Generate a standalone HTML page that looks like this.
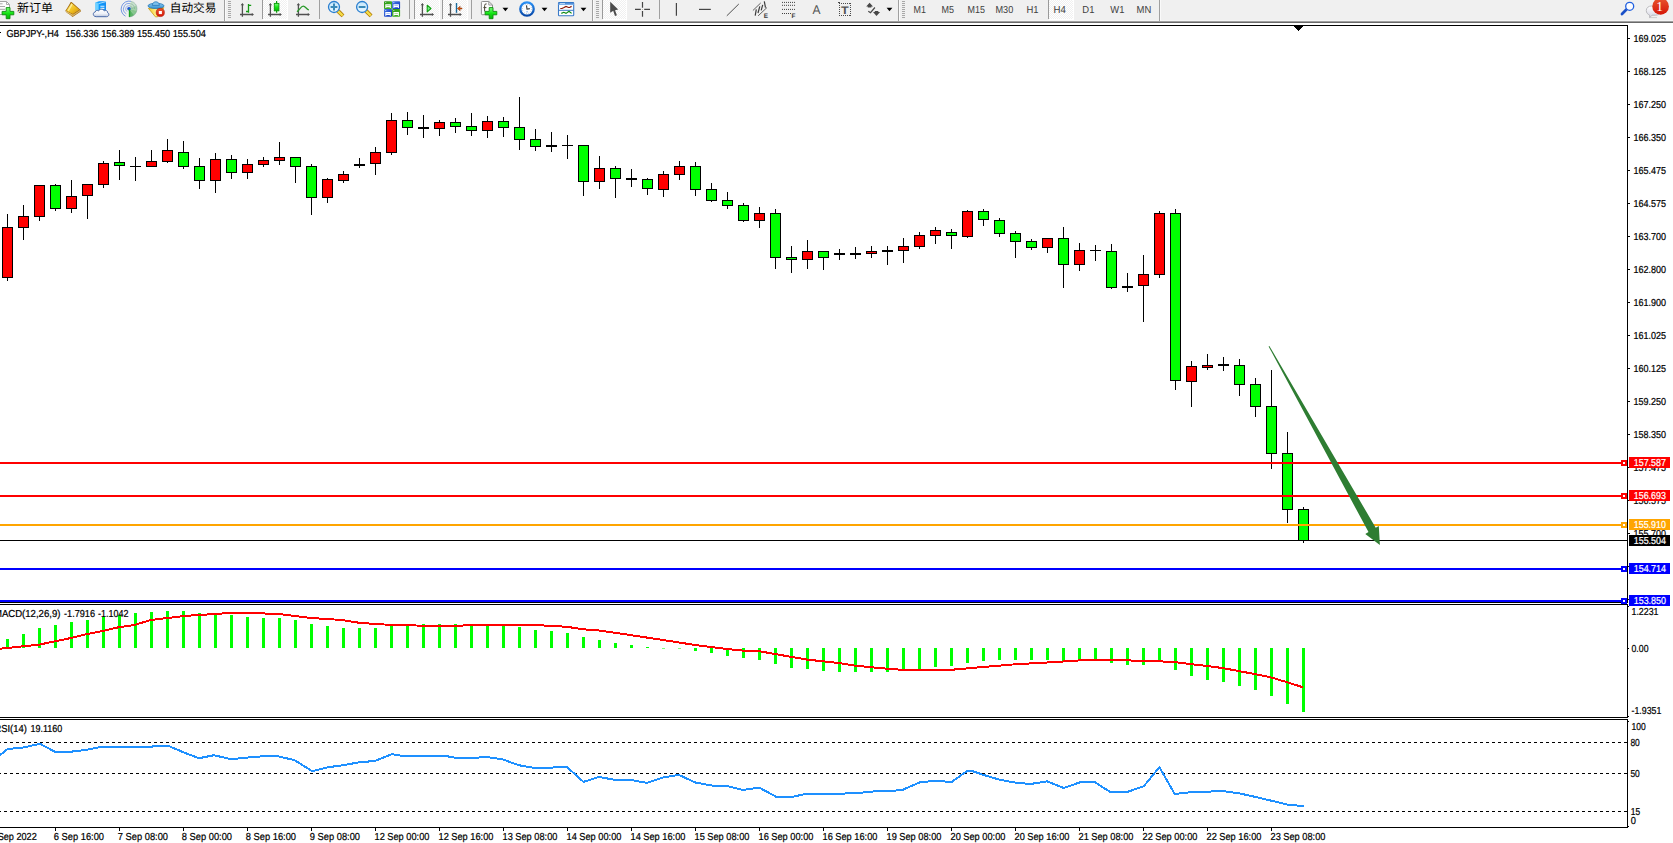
<!DOCTYPE html>
<html lang="zh-CN"><head><meta charset="utf-8"><title>GBPJPY-,H4</title>
<style>html,body{margin:0;padding:0;background:#fff;overflow:hidden}svg{display:block;font-family:"Liberation Sans", "Noto Sans CJK SC", sans-serif;text-rendering:geometricPrecision}.c{shape-rendering:crispEdges}</style></head><body>
<svg width="1673" height="843" viewBox="0 0 1673 843">
<rect x="0" y="0" width="1673" height="843" fill="#fff"/>
<defs><linearGradient id="gGreen" x1="0" y1="0" x2="0" y2="1"><stop offset="0" stop-color="#7dff7d"/><stop offset="0.5" stop-color="#14e614"/><stop offset="1" stop-color="#05b405"/></linearGradient><linearGradient id="gBook" x1="0" y1="0" x2="1" y2="1"><stop offset="0" stop-color="#fbe46a"/><stop offset="0.55" stop-color="#f0c020"/><stop offset="1" stop-color="#c98a10"/></linearGradient><linearGradient id="gCloud" x1="0" y1="0" x2="0" y2="1"><stop offset="0" stop-color="#ffffff"/><stop offset="0.6" stop-color="#eef1f8"/><stop offset="1" stop-color="#b9c4dc"/></linearGradient><linearGradient id="gCube" x1="0" y1="0" x2="1" y2="0"><stop offset="0" stop-color="#4fc0ff"/><stop offset="0.35" stop-color="#0a9cff"/><stop offset="1" stop-color="#168cf0"/></linearGradient><linearGradient id="gHat" x1="0" y1="0" x2="0" y2="1"><stop offset="0" stop-color="#8cc8f0"/><stop offset="1" stop-color="#2f8fd0"/></linearGradient><linearGradient id="gFun" x1="0" y1="0" x2="1" y2="0"><stop offset="0" stop-color="#f4c820"/><stop offset="0.5" stop-color="#fff08a"/><stop offset="1" stop-color="#e8b418"/></linearGradient><linearGradient id="gRed" x1="0" y1="0" x2="0" y2="1"><stop offset="0" stop-color="#e9562e"/><stop offset="1" stop-color="#d51506"/></linearGradient><linearGradient id="gClock" x1="0" y1="0" x2="0" y2="1"><stop offset="0" stop-color="#2a90f4"/><stop offset="1" stop-color="#0848a8"/></linearGradient><linearGradient id="gLens" x1="0" y1="0" x2="0" y2="1"><stop offset="0" stop-color="#c4e6fa"/><stop offset="1" stop-color="#eaf8ff"/></linearGradient><linearGradient id="gHandle" x1="0" y1="0" x2="1" y2="0"><stop offset="0" stop-color="#fff07a"/><stop offset="1" stop-color="#e0b010"/></linearGradient><linearGradient id="gTG" x1="0" y1="0" x2="1" y2="1"><stop offset="0" stop-color="#2c9a14"/><stop offset="1" stop-color="#46b428"/></linearGradient><linearGradient id="gTB" x1="0" y1="0" x2="1" y2="1"><stop offset="0" stop-color="#4a7ce8"/><stop offset="1" stop-color="#0a30b8"/></linearGradient><linearGradient id="gBub" x1="0" y1="0" x2="0" y2="1"><stop offset="0" stop-color="#ffffff"/><stop offset="1" stop-color="#d4d4e2"/></linearGradient><linearGradient id="gTpl" x1="0" y1="0" x2="0" y2="1"><stop offset="0" stop-color="#2f74c8"/><stop offset="1" stop-color="#8fbcf0"/></linearGradient><radialGradient id="gSig" cx="0.5" cy="0.5" r="0.5"><stop offset="0" stop-color="#2fa43a" stop-opacity="0.95"/><stop offset="1" stop-color="#2fa43a" stop-opacity="0.35"/></radialGradient><pattern id="dither" width="2" height="2" patternUnits="userSpaceOnUse"><rect width="2" height="2" fill="#f0f0f0"/><rect width="1" height="1" fill="#fff"/><rect x="1" y="1" width="1" height="1" fill="#fff"/></pattern></defs>
<g id="toolbar">
<g class="c">
<rect x="0" y="0" width="1673" height="21" fill="#f0f0f0"/>
<rect x="0" y="20" width="1673" height="1" fill="#f5f5f5"/>
<rect x="0" y="21" width="1673" height="1" fill="#a0a0a0"/>
<rect x="0" y="22" width="1673" height="1" fill="#696969"/>
<rect x="0" y="23" width="1673" height="2" fill="#fff"/>
<rect x="263" y="0" width="24" height="19" fill="url(#dither)"/>
<rect x="263" y="19" width="25" height="1" fill="#fff"/>
<rect x="287" y="0" width="1" height="20" fill="#fff"/>
<rect x="262" y="0" width="1" height="19" fill="#9a9a9a"/>
<rect x="415" y="0" width="24" height="19" fill="url(#dither)"/>
<rect x="415" y="19" width="25" height="1" fill="#fff"/>
<rect x="439" y="0" width="1" height="20" fill="#fff"/>
<rect x="414" y="0" width="1" height="19" fill="#9a9a9a"/>
<rect x="443" y="0" width="24" height="19" fill="url(#dither)"/>
<rect x="443" y="19" width="25" height="1" fill="#fff"/>
<rect x="467" y="0" width="1" height="20" fill="#fff"/>
<rect x="442" y="0" width="1" height="19" fill="#9a9a9a"/>
<rect x="603" y="0" width="23" height="19" fill="url(#dither)"/>
<rect x="603" y="19" width="24" height="1" fill="#fff"/>
<rect x="626" y="0" width="1" height="20" fill="#fff"/>
<rect x="602" y="0" width="1" height="19" fill="#9a9a9a"/>
<rect x="1049" y="0" width="24" height="19" fill="url(#dither)"/>
<rect x="1049" y="19" width="25" height="1" fill="#fff"/>
<rect x="1073" y="0" width="1" height="20" fill="#fff"/>
<rect x="1048" y="0" width="1" height="19" fill="#9a9a9a"/>
<rect x="319" y="0" width="1" height="19" fill="#a0a0a0"/>
<rect x="409" y="0" width="1" height="19" fill="#a0a0a0"/>
<rect x="471" y="0" width="1" height="19" fill="#a0a0a0"/>
<rect x="659" y="0" width="1" height="19" fill="#a0a0a0"/>
<rect x="1159" y="0" width="1" height="21" fill="#a0a0a0"/>
<rect x="1160" y="0" width="1" height="21" fill="#fafafa"/>
<rect x="224" y="0" width="1" height="21" fill="#a0a0a0"/>
<rect x="225" y="0" width="1" height="21" fill="#fafafa"/>
<rect x="592" y="0" width="1" height="21" fill="#a0a0a0"/>
<rect x="593" y="0" width="1" height="21" fill="#fafafa"/>
<rect x="898" y="0" width="1" height="21" fill="#a0a0a0"/>
<rect x="899" y="0" width="1" height="21" fill="#fafafa"/>
<rect x="228" y="1" width="3" height="1" fill="#a8a8a8"/>
<rect x="228" y="3" width="3" height="1" fill="#a8a8a8"/>
<rect x="228" y="5" width="3" height="1" fill="#a8a8a8"/>
<rect x="228" y="7" width="3" height="1" fill="#a8a8a8"/>
<rect x="228" y="9" width="3" height="1" fill="#a8a8a8"/>
<rect x="228" y="11" width="3" height="1" fill="#a8a8a8"/>
<rect x="228" y="13" width="3" height="1" fill="#a8a8a8"/>
<rect x="228" y="15" width="3" height="1" fill="#a8a8a8"/>
<rect x="228" y="17" width="3" height="1" fill="#a8a8a8"/>
<rect x="596" y="1" width="3" height="1" fill="#a8a8a8"/>
<rect x="596" y="3" width="3" height="1" fill="#a8a8a8"/>
<rect x="596" y="5" width="3" height="1" fill="#a8a8a8"/>
<rect x="596" y="7" width="3" height="1" fill="#a8a8a8"/>
<rect x="596" y="9" width="3" height="1" fill="#a8a8a8"/>
<rect x="596" y="11" width="3" height="1" fill="#a8a8a8"/>
<rect x="596" y="13" width="3" height="1" fill="#a8a8a8"/>
<rect x="596" y="15" width="3" height="1" fill="#a8a8a8"/>
<rect x="596" y="17" width="3" height="1" fill="#a8a8a8"/>
<rect x="902" y="1" width="3" height="1" fill="#a8a8a8"/>
<rect x="902" y="3" width="3" height="1" fill="#a8a8a8"/>
<rect x="902" y="5" width="3" height="1" fill="#a8a8a8"/>
<rect x="902" y="7" width="3" height="1" fill="#a8a8a8"/>
<rect x="902" y="9" width="3" height="1" fill="#a8a8a8"/>
<rect x="902" y="11" width="3" height="1" fill="#a8a8a8"/>
<rect x="902" y="13" width="3" height="1" fill="#a8a8a8"/>
<rect x="902" y="15" width="3" height="1" fill="#a8a8a8"/>
<rect x="902" y="17" width="3" height="1" fill="#a8a8a8"/>
</g>
<text x="17" y="12" font-size="11.800" fill="#000" textLength="36" lengthAdjust="spacingAndGlyphs">新订单</text>
<text x="169.800" y="12" font-size="11.800" fill="#000" textLength="46.6" lengthAdjust="spacingAndGlyphs">自动交易</text>
<text x="913.6" y="13" font-size="10.17" fill="#404040" textLength="12.4" lengthAdjust="spacingAndGlyphs">M1</text>
<text x="941.5" y="13" font-size="10.17" fill="#404040" textLength="12.5" lengthAdjust="spacingAndGlyphs">M5</text>
<text x="967.6" y="13" font-size="10.17" fill="#404040" textLength="17.4" lengthAdjust="spacingAndGlyphs">M15</text>
<text x="995.5" y="13" font-size="10.17" fill="#404040" textLength="17.8" lengthAdjust="spacingAndGlyphs">M30</text>
<text x="1026.4" y="13" font-size="10.17" fill="#404040" textLength="12.1" lengthAdjust="spacingAndGlyphs">H1</text>
<text x="1053.6" y="13" font-size="10.17" fill="#404040" textLength="12.3" lengthAdjust="spacingAndGlyphs">H4</text>
<text x="1082.3" y="13" font-size="10.17" fill="#404040" textLength="12.1" lengthAdjust="spacingAndGlyphs">D1</text>
<text x="1110.3" y="13" font-size="10.17" fill="#404040" textLength="14.1" lengthAdjust="spacingAndGlyphs">W1</text>
<text x="1136.6" y="13" font-size="10.17" fill="#404040" textLength="14.7" lengthAdjust="spacingAndGlyphs">MN</text>
<text x="812.5" y="14" font-size="12.6" fill="#555" textLength="8" lengthAdjust="spacingAndGlyphs">A</text>
<path d="M-1 1.5 H6.5 L9.5 4.5 V14.5 H-1 Z" fill="#fdfdfd" stroke="#a4a4a4" stroke-width="1"/>
<path d="M6.5 1.5 V4.5 H9.5" fill="none" stroke="#a4a4a4" stroke-width="0.9"/>
<path d="M0 3.8 H2.6 M0 6.5 H5 M0 9.3 H5" stroke="#a8a8a8" stroke-width="1"/>
<path d="M6.2 7.6 H10 V11.4 H13.8 V14.8 H10 V18.7 H6.2 V14.8 H2.1 V11.4 H6.2 Z" fill="url(#gGreen)" stroke="#0c8c0c" stroke-width="0.9"/>
<path d="M65.200 11 C66.800 8.500 69.600 4.500 70.700 2 L71.600 1.900 L80.700 10.100 L80.800 11.400 L72.600 16.900 Z" fill="#a46c12"/>
<path d="M66 12 L72.600 16.300 L80.400 11 L80.300 9.900 L72.900 14.700 L66.200 10.900 Z" fill="#e8cf8c"/>
<path d="M66.400 12.400 L72.600 15.500 L80.300 10.500" fill="none" stroke="#b88a30" stroke-width="0.500"/>
<path d="M66.300 10.800 C67.800 8.400 70.200 5 71.300 3.100 L79.400 9.800 L72.900 13.900 Z" fill="url(#gBook)"/>
<path d="M68.200 10.800 C69.200 9 71 6.200 72 4.200" fill="none" stroke="#fff6b0" stroke-width="1.500" stroke-opacity="0.750"/>
<path d="M95.4 2.4 L99 1.3 H106 V10.5 H95.4 Z" fill="url(#gCube)"/>
<path d="M95.4 2.4 L98.6 3.6 V10.5 H95.4 Z" fill="#6fd0ff"/>
<path d="M98.6 3.6 L106 1.6" stroke="#c8ecff" stroke-width="0.8"/>
<path d="M100.4 6.2 H104.4 M100.4 8.4 H104.4" stroke="#dff3ff" stroke-width="1.1"/>
<path d="M96.200 16.700 C92.600 16.700 92.400 12.300 95.300 11.900 C95.500 10.300 97.600 9.900 98.500 11 C99.300 8.700 103.400 8.600 104.300 10.900 C106 9.900 108 11 107.600 12.700 C109.600 13.300 109.200 16.700 106.600 16.700 Z" fill="url(#gCloud)" stroke="#4a6aa8" stroke-width="1"/>
<path d="M129 9 V17 A8 8 0 0 0 134.200 15.100 Z" fill="#1f9a30" fill-opacity="0.700"/>
<path d="M129 9 L134.200 15.100 A8 8 0 0 0 136.800 10.800 Z" fill="#2fa43c" fill-opacity="0.550"/>
<path d="M129 9 L136.800 10.800 A8 8 0 0 0 136.200 5.500 Z" fill="#3aa848" fill-opacity="0.420"/>
<path d="M129 9 L136.200 5.500 A8 8 0 0 0 131 1.300 Z" fill="#5ab868" fill-opacity="0.280"/>
<path d="M131 1.300 A8 8 0 0 0 125.500 16.200" fill="none" stroke="#3f6fdc" stroke-width="1" stroke-opacity="0.700"/>
<path d="M130 3.600 A5.500 5.500 0 0 0 126.300 13.800" fill="none" stroke="#4f7ce0" stroke-width="1" stroke-opacity="0.650"/>
<path d="M129.500 5.700 A3.300 3.300 0 0 0 127 11.600" fill="none" stroke="#6f94e6" stroke-width="1" stroke-opacity="0.650"/>
<path d="M131 1.300 A8 8 0 0 1 137 9 A8 8 0 0 1 129 17 M130 3.600 A5.500 5.500 0 0 1 134.500 9 M129.500 5.700 A3.300 3.300 0 0 1 132.300 9" fill="none" stroke="#6f9888" stroke-width="0.800" stroke-opacity="0.550"/>
<circle cx="129" cy="8.700" r="1.800" fill="#1f56d0"/>
<path d="M129.500 9.300 V16.900" stroke="#18a428" stroke-width="1.400"/>
<path d="M148.400 8.300 L163.800 7.700 L157.600 16.800 H155.400 Z" fill="url(#gFun)" stroke="#c89a14" stroke-width="0.8"/>
<ellipse cx="156" cy="5.900" rx="8" ry="2.700" fill="url(#gHat)" stroke="#2878b8" stroke-width="0.8"/>
<path d="M152.300 5.400 C152.300 0.600 159.400 0.600 159.400 5.400 Z" fill="#7cc0ec" stroke="#2878b8" stroke-width="0.8"/>
<circle cx="160.300" cy="12.500" r="4.100" fill="url(#gRed)" stroke="#b01206" stroke-width="0.6"/>
<rect x="158.800" y="11" width="3.100" height="3.100" fill="#fff"/>
<path d="M242.4 4 V16.800 M240 14.500 H252.8" stroke="#505050" stroke-width="1.300" fill="none"/>
<path d="M240.70000000000002 5.200 L242.4 2.900 L244.1 5.200 Z M251.8 12.900 L254.0 14.500 L251.8 16.100 Z" fill="#505050"/>
<path d="M246 11.500 H248.500 M248.500 4 V12.800 M248.500 5.300 H251.200" stroke="#159a15" stroke-width="1.3" fill="none"/>
<path d="M270.4 4 V16.800 M268.1 14.500 H280.7" stroke="#505050" stroke-width="1.300" fill="none"/>
<path d="M268.7 5.200 L270.4 2.900 L272.09999999999997 5.200 Z M279.7 12.900 L281.9 14.500 L279.7 16.100 Z" fill="#505050"/>
<path d="M276.600 1 V12.800" stroke="#0b9a0b" stroke-width="1.2"/>
<rect x="274.300" y="3.400" width="4.600" height="7.400" fill="url(#gGreen)" stroke="#0b9a0b" stroke-width="0.9"/>
<path d="M298.4 4 V16.800 M296 14.500 H308.8" stroke="#505050" stroke-width="1.300" fill="none"/>
<path d="M296.7 5.200 L298.4 2.900 L300.09999999999997 5.200 Z M307.8 12.900 L310.0 14.500 L307.8 16.100 Z" fill="#505050"/>
<path d="M297 11.800 C300 9.500 301 6.200 303.200 6.200 C305.400 6.200 306.500 9.200 308.900 10" stroke="#2a9a2a" stroke-width="1.3" fill="none"/>
<path d="M337.8 10.800 L343 15.900" stroke="#b07800" stroke-width="4"/>
<path d="M337.8 10.800 L342.7 15.600" stroke="#f4dc48" stroke-width="2.400"/>
<circle cx="334" cy="7" r="5.500" fill="url(#gLens)" stroke="#2a7fd0" stroke-width="1.300"/>
<path d="M330.6 7 H337.4" stroke="#3a8ab8" stroke-width="2"/>
<path d="M334 3.600 V10.400" stroke="#3a8ab8" stroke-width="2"/>
<path d="M365.90000000000003 10.800 L371.1 15.900" stroke="#b07800" stroke-width="4"/>
<path d="M365.90000000000003 10.800 L370.8 15.600" stroke="#f4dc48" stroke-width="2.400"/>
<circle cx="362.1" cy="7" r="5.500" fill="url(#gLens)" stroke="#2a7fd0" stroke-width="1.300"/>
<path d="M358.70000000000005 7 H365.5" stroke="#3a8ab8" stroke-width="2"/>
<rect x="384" y="1.3" width="8" height="7.700" rx="0.800" fill="url(#gTG)"/>
<rect x="385.2" y="2.2" width="1" height="0.800" fill="#dfe8ff"/>
<path d="M385.3 7.8999999999999995 V4.3 H390.8 V7.8999999999999995 H389.8 V7.2 H386.3 V7.8999999999999995 Z" fill="#fff"/>
<rect x="386.3" y="5.2" width="3.500" height="0.800" fill="#9ad88a"/>
<rect x="392.1" y="1.3" width="8" height="7.700" rx="0.800" fill="url(#gTB)"/>
<rect x="393.3" y="2.2" width="1" height="0.800" fill="#dfe8ff"/>
<path d="M393.40000000000003 7.8999999999999995 V4.3 H398.90000000000003 V7.8999999999999995 H397.90000000000003 V7.2 H394.40000000000003 V7.8999999999999995 Z" fill="#fff"/>
<rect x="394.40000000000003" y="5.2" width="3.500" height="0.800" fill="#9ab4f0"/>
<rect x="384" y="9.1" width="8" height="7.700" rx="0.800" fill="url(#gTB)"/>
<rect x="385.2" y="10.0" width="1" height="0.800" fill="#dfe8ff"/>
<path d="M385.3 15.7 V12.1 H390.8 V15.7 H389.8 V15.0 H386.3 V15.7 Z" fill="#fff"/>
<rect x="386.3" y="13.0" width="3.500" height="0.800" fill="#9ab4f0"/>
<rect x="392.1" y="9.1" width="8" height="7.700" rx="0.800" fill="url(#gTG)"/>
<rect x="393.3" y="10.0" width="1" height="0.800" fill="#dfe8ff"/>
<path d="M393.40000000000003 15.7 V12.1 H398.90000000000003 V15.7 H397.90000000000003 V15.0 H394.40000000000003 V15.7 Z" fill="#fff"/>
<rect x="394.40000000000003" y="13.0" width="3.500" height="0.800" fill="#9ad88a"/>
<path d="M422.4 4 V16.800 M420 14.500 H432.9" stroke="#505050" stroke-width="1.300" fill="none"/>
<path d="M420.7 5.200 L422.4 2.900 L424.09999999999997 5.200 Z M431.9 12.900 L434.09999999999997 14.500 L431.9 16.100 Z" fill="#505050"/>
<path d="M427.200 5.200 L431 8.500 L427.200 11.900 Z" fill="#74f084" stroke="#12a212" stroke-width="1.100" stroke-linejoin="round"/>
<path d="M450.5 4 V16.800 M448 14.500 H460.7" stroke="#505050" stroke-width="1.300" fill="none"/>
<path d="M448.8 5.200 L450.5 2.900 L452.2 5.200 Z M459.7 12.900 L461.9 14.500 L459.7 16.100 Z" fill="#505050"/>
<path d="M456.500 3 V12.800" stroke="#1a6a9a" stroke-width="1.400"/>
<path d="M457.300 8.500 L460.200 6.200 L459.700 8 H462 V9 H459.700 L460.200 10.800 Z" fill="#e05a08" stroke="#8a2c00" stroke-width="0.500"/>
<path d="M482.300 1.500 H488.800 L492.500 5 V13.800 Q492.500 14.700 491.600 14.700 H482.300 Q481.400 14.700 481.400 13.800 V2.400 Q481.400 1.500 482.300 1.500 Z" fill="#fcfcfc" stroke="#8e8e8e" stroke-width="1"/>
<path d="M488.800 1.500 V5 H492.500" fill="none" stroke="#8e8e8e" stroke-width="0.900"/>
<path d="M486.600 3.900 Q484.600 3.600 484.600 5.600 V11.400 M483.400 7.600 H486.400" stroke="#4a4636" stroke-width="1" fill="none"/>
<path d="M489.200 7.600 H493 V11.400 H496.800 V14.800 H493 V18.700 H489.200 V14.800 H485.100 V11.400 H489.200 Z" fill="url(#gGreen)" stroke="#0c8c0c" stroke-width="0.900"/>
<circle cx="527" cy="9" r="6.700" fill="#fbfdff" stroke="url(#gClock)" stroke-width="2.300"/>
<circle cx="527" cy="9" r="4.600" fill="none" stroke="#9aa6b8" stroke-width="0.900" stroke-dasharray="0.700 1.700"/>
<path d="M526.500 5.400 L527 9.200 L529.800 8.600" stroke="#333" stroke-width="1.100" fill="none"/>
<path d="M526.300 11.800 H527.900" stroke="#5a9af0" stroke-width="0.800"/>
<rect x="558.500" y="2.500" width="15.200" height="13.200" rx="0.800" fill="#fdfeff" stroke="#3a7ac8" stroke-width="1.100"/>
<rect x="558.500" y="2.500" width="15.200" height="2.500" fill="url(#gTpl)"/>
<path d="M559.800 3.600 H565" stroke="#dcecff" stroke-width="0.800"/>
<path d="M560.300 8.500 L562 8.500 L564 7.500 L566 6.400 L568.600 7.500 L569.600 7.500 L571.600 6.400" stroke="#8c1606" stroke-width="1.200" fill="none"/>
<path d="M558.500 10.300 H573.700" stroke="#3a7ac8" stroke-width="1"/>
<path d="M561.300 13.400 L563.800 12.300 L566 13.400 L569 11.300 L571.600 13.400" stroke="#0c8a14" stroke-width="1.200" fill="none"/>
<path d="M502.5 7.800 H508.29999999999995 L505.4 11.200 Z" fill="#000"/>
<path d="M541.6 7.800 H547.4 L544.5 11.200 Z" fill="#000"/>
<path d="M580.6 7.800 H586.4 L583.5 11.200 Z" fill="#000"/>
<path d="M886.6 7.800 H892.4 L889.5 11.200 Z" fill="#000"/>
<path d="M610.200 1.800 V12.800 L613.200 10.700 L615 15.900 L616.900 15.200 L615 10.200 L618.200 9.400 Z" fill="#4c4c4c"/>
<path d="M642.500 2 V7.800 M642.500 11 V16.800 M635 9.400 H640.800 M644.200 9.400 H650" stroke="#454545" stroke-width="1.200"/>
<rect x="642.200" y="9.100" width="0.600" height="0.600" fill="#6a5a3a"/>
<path d="M676.400 3 V15.800" stroke="#454545" stroke-width="1.200"/>
<path d="M699 9.400 H710.800" stroke="#454545" stroke-width="1.200"/>
<path d="M726.800 15.800 L738.800 4" stroke="#505050" stroke-width="1"/>
<path d="M752.900 10.500 L760.700 3 M758.200 15.800 L767 7.500" stroke="#505050" stroke-width="0.900"/>
<path d="M755.200 15.600 L756.300 9.300 M758 13 L759.800 6.300 M761.200 10.400 L762.700 4.800 M764.300 1.300 L765.500 7.600" stroke="#3c3c3c" stroke-width="1.200"/>
<text x="763.700" y="17.800" font-size="6.400" font-weight="bold" fill="#3c3c3c">E</text>
<path d="M782 2.4 H795.5" stroke="#404040" stroke-width="1" stroke-dasharray="1 1"/>
<path d="M782 5.3 H795.5" stroke="#404040" stroke-width="1" stroke-dasharray="1 1"/>
<path d="M782 9.4 H795.5" stroke="#404040" stroke-width="1" stroke-dasharray="1 1"/>
<path d="M782 13.5 H791" stroke="#404040" stroke-width="1" stroke-dasharray="1 1"/>
<text x="791.600" y="17.800" font-size="6.400" font-weight="bold" fill="#3c3c3c">F</text>
<path class="c" d="M839 3.500 H851 M839 15.500 H851 M839.500 3 V16 M850.500 3 V16" fill="none" stroke="#4a4a4a" stroke-width="1" stroke-dasharray="1 1"/>
<path d="M838 2 H840 V3 H838 Z" fill="#4a4a4a"/>
<text x="841" y="13.700" font-size="11" font-weight="bold" fill="#555" textLength="7.700" lengthAdjust="spacingAndGlyphs">T</text>
<path d="M866.200 6.500 L869.600 2.800 L873 6.500 H871.400 V7.600 H867.800 V6.500 Z" fill="#484848"/>
<path d="M873 12.100 H874.800 V11.100 H878.300 V12.100 H880.100 L876.500 15.900 Z" fill="#484848"/>
<path d="M868.300 11.200 L870.500 12.700 L874.900 7.500" stroke="#484848" stroke-width="1.200" fill="none"/>
<path d="M1626.400 9.600 L1622 13.900" stroke="#1a50c8" stroke-width="2.800" stroke-linecap="round"/>
<circle cx="1629.700" cy="6.300" r="4" fill="#fbfcff" stroke="#2060e0" stroke-width="1.300"/>
<path d="M1649.500 17.600 H1657" stroke="#c4c4c4" stroke-width="0.800"/>
<path d="M1646.300 10.500 C1646.300 7.800 1648.500 6 1651.500 6 H1656 C1659 6 1660.500 8 1660.500 10.500 C1660.500 13.300 1658.500 15.200 1655.500 15.200 H1652 L1649.700 17.600 L1649.600 15 C1647.500 14.300 1646.300 12.700 1646.300 10.500 Z" fill="url(#gBub)" stroke="#b4b4b8" stroke-width="0.900"/>
<circle cx="1660.600" cy="6.400" r="8.300" fill="url(#gRed)"/>
<text x="1659.500" y="10.900" font-size="13.500" font-family="'Liberation Serif', serif" fill="#fff" text-anchor="middle">1</text>
</g>
<g class="c">
<rect x="0" y="25" width="1628" height="1" fill="#000"/>
<rect x="1627" y="25" width="1" height="803" fill="#000"/>
<rect x="0" y="602" width="1628" height="1" fill="#000"/>
<rect x="0" y="604" width="1628" height="1" fill="#000"/>
<rect x="0" y="717" width="1628" height="1" fill="#000"/>
<rect x="0" y="719" width="1628" height="1" fill="#000"/>
<rect x="0" y="827" width="1628" height="1" fill="#000"/>
<rect x="1627" y="603" width="1" height="1" fill="#fff"/>
<rect x="1627" y="718" width="1" height="1" fill="#fff"/>
</g>
<g class="c">
<rect x="1294" y="26" width="9" height="1" fill="#000"/>
<rect x="1295" y="27" width="7" height="1" fill="#000"/>
<rect x="1296" y="28" width="5" height="1" fill="#000"/>
<rect x="1297" y="29" width="3" height="1" fill="#000"/>
<rect x="1298" y="30" width="1" height="1" fill="#000"/>
</g>
<g class="c">
<rect x="1628" y="38" width="2" height="1" fill="#000"/>
<rect x="1628" y="71" width="2" height="1" fill="#000"/>
<rect x="1628" y="104" width="2" height="1" fill="#000"/>
<rect x="1628" y="137" width="2" height="1" fill="#000"/>
<rect x="1628" y="170" width="2" height="1" fill="#000"/>
<rect x="1628" y="203" width="2" height="1" fill="#000"/>
<rect x="1628" y="236" width="2" height="1" fill="#000"/>
<rect x="1628" y="269" width="2" height="1" fill="#000"/>
<rect x="1628" y="302" width="2" height="1" fill="#000"/>
<rect x="1628" y="335" width="2" height="1" fill="#000"/>
<rect x="1628" y="368" width="2" height="1" fill="#000"/>
<rect x="1628" y="401" width="2" height="1" fill="#000"/>
<rect x="1628" y="434" width="2" height="1" fill="#000"/>
<rect x="1628" y="467" width="2" height="1" fill="#000"/>
<rect x="1628" y="500" width="2" height="1" fill="#000"/>
<rect x="1628" y="533" width="2" height="1" fill="#000"/>
<rect x="1628" y="566" width="2" height="1" fill="#000"/>
<rect x="1628" y="599" width="2" height="1" fill="#000"/>
</g>
<text x="1633.4" y="42.00" font-size="10.17" fill="#000" stroke="#000" stroke-width="0.22" text-anchor="start" textLength="32.5" lengthAdjust="spacingAndGlyphs">169.025</text>
<text x="1633.4" y="75.00" font-size="10.17" fill="#000" stroke="#000" stroke-width="0.22" text-anchor="start" textLength="32.5" lengthAdjust="spacingAndGlyphs">168.125</text>
<text x="1633.4" y="108.00" font-size="10.17" fill="#000" stroke="#000" stroke-width="0.22" text-anchor="start" textLength="32.5" lengthAdjust="spacingAndGlyphs">167.250</text>
<text x="1633.4" y="141.00" font-size="10.17" fill="#000" stroke="#000" stroke-width="0.22" text-anchor="start" textLength="32.5" lengthAdjust="spacingAndGlyphs">166.350</text>
<text x="1633.4" y="174.00" font-size="10.17" fill="#000" stroke="#000" stroke-width="0.22" text-anchor="start" textLength="32.5" lengthAdjust="spacingAndGlyphs">165.475</text>
<text x="1633.4" y="207.00" font-size="10.17" fill="#000" stroke="#000" stroke-width="0.22" text-anchor="start" textLength="32.5" lengthAdjust="spacingAndGlyphs">164.575</text>
<text x="1633.4" y="240.00" font-size="10.17" fill="#000" stroke="#000" stroke-width="0.22" text-anchor="start" textLength="32.5" lengthAdjust="spacingAndGlyphs">163.700</text>
<text x="1633.4" y="273.00" font-size="10.17" fill="#000" stroke="#000" stroke-width="0.22" text-anchor="start" textLength="32.5" lengthAdjust="spacingAndGlyphs">162.800</text>
<text x="1633.4" y="306.00" font-size="10.17" fill="#000" stroke="#000" stroke-width="0.22" text-anchor="start" textLength="32.5" lengthAdjust="spacingAndGlyphs">161.900</text>
<text x="1633.4" y="339.00" font-size="10.17" fill="#000" stroke="#000" stroke-width="0.22" text-anchor="start" textLength="32.5" lengthAdjust="spacingAndGlyphs">161.025</text>
<text x="1633.4" y="372.00" font-size="10.17" fill="#000" stroke="#000" stroke-width="0.22" text-anchor="start" textLength="32.5" lengthAdjust="spacingAndGlyphs">160.125</text>
<text x="1633.4" y="405.00" font-size="10.17" fill="#000" stroke="#000" stroke-width="0.22" text-anchor="start" textLength="32.5" lengthAdjust="spacingAndGlyphs">159.250</text>
<text x="1633.4" y="438.00" font-size="10.17" fill="#000" stroke="#000" stroke-width="0.22" text-anchor="start" textLength="32.5" lengthAdjust="spacingAndGlyphs">158.350</text>
<text x="1633.4" y="471.00" font-size="10.17" fill="#000" stroke="#000" stroke-width="0.22" text-anchor="start" textLength="32.5" lengthAdjust="spacingAndGlyphs">157.475</text>
<text x="1633.4" y="504.00" font-size="10.17" fill="#000" stroke="#000" stroke-width="0.22" text-anchor="start" textLength="32.5" lengthAdjust="spacingAndGlyphs">156.575</text>
<text x="1633.4" y="537.00" font-size="10.17" fill="#000" stroke="#000" stroke-width="0.22" text-anchor="start" textLength="32.5" lengthAdjust="spacingAndGlyphs">155.700</text>
<g class="c">
<rect x="0" y="462" width="1621" height="2" fill="#ff0000"/>
<rect x="0" y="495" width="1621" height="2" fill="#ff0000"/>
<rect x="0" y="524" width="1621" height="2" fill="#ffa500"/>
<rect x="0" y="568" width="1621" height="2" fill="#0000ff"/>
<rect x="0" y="600" width="1621" height="2" fill="#0000ff"/>
<rect x="0" y="540" width="1627" height="1" fill="#000"/>
</g>
<g class="c">
<rect x="7" y="214" width="1" height="67" fill="#000"/>
<rect x="2" y="227" width="11" height="51" fill="#000"/>
<rect x="3" y="228" width="9" height="49" fill="#ff0000"/>
<rect x="23" y="205" width="1" height="35" fill="#000"/>
<rect x="18" y="216" width="11" height="12" fill="#000"/>
<rect x="19" y="217" width="9" height="10" fill="#ff0000"/>
<rect x="39" y="185" width="1" height="36" fill="#000"/>
<rect x="34" y="185" width="11" height="32" fill="#000"/>
<rect x="35" y="186" width="9" height="30" fill="#ff0000"/>
<rect x="55" y="184" width="1" height="27" fill="#000"/>
<rect x="50" y="185" width="11" height="24" fill="#000"/>
<rect x="51" y="186" width="9" height="22" fill="#00ff00"/>
<rect x="71" y="180" width="1" height="33" fill="#000"/>
<rect x="66" y="196" width="11" height="13" fill="#000"/>
<rect x="67" y="197" width="9" height="11" fill="#ff0000"/>
<rect x="87" y="184" width="1" height="35" fill="#000"/>
<rect x="82" y="184" width="11" height="12" fill="#000"/>
<rect x="83" y="185" width="9" height="10" fill="#ff0000"/>
<rect x="103" y="161" width="1" height="27" fill="#000"/>
<rect x="98" y="163" width="11" height="22" fill="#000"/>
<rect x="99" y="164" width="9" height="20" fill="#ff0000"/>
<rect x="119" y="150" width="1" height="30" fill="#000"/>
<rect x="114" y="162" width="11" height="4" fill="#000"/>
<rect x="115" y="163" width="9" height="2" fill="#00ff00"/>
<rect x="135" y="157" width="1" height="24" fill="#000"/>
<rect x="130" y="166" width="11" height="1" fill="#000"/>
<rect x="151" y="150" width="1" height="17" fill="#000"/>
<rect x="146" y="161" width="11" height="6" fill="#000"/>
<rect x="147" y="162" width="9" height="4" fill="#ff0000"/>
<rect x="167" y="139" width="1" height="24" fill="#000"/>
<rect x="162" y="150" width="11" height="12" fill="#000"/>
<rect x="163" y="151" width="9" height="10" fill="#ff0000"/>
<rect x="183" y="141" width="1" height="28" fill="#000"/>
<rect x="178" y="152" width="11" height="15" fill="#000"/>
<rect x="179" y="153" width="9" height="13" fill="#00ff00"/>
<rect x="199" y="158" width="1" height="31" fill="#000"/>
<rect x="194" y="166" width="11" height="15" fill="#000"/>
<rect x="195" y="167" width="9" height="13" fill="#00ff00"/>
<rect x="215" y="153" width="1" height="40" fill="#000"/>
<rect x="210" y="159" width="11" height="22" fill="#000"/>
<rect x="211" y="160" width="9" height="20" fill="#ff0000"/>
<rect x="231" y="155" width="1" height="24" fill="#000"/>
<rect x="226" y="159" width="11" height="14" fill="#000"/>
<rect x="227" y="160" width="9" height="12" fill="#00ff00"/>
<rect x="247" y="159" width="1" height="20" fill="#000"/>
<rect x="242" y="164" width="11" height="9" fill="#000"/>
<rect x="243" y="165" width="9" height="7" fill="#ff0000"/>
<rect x="263" y="157" width="1" height="10" fill="#000"/>
<rect x="258" y="160" width="11" height="5" fill="#000"/>
<rect x="259" y="161" width="9" height="3" fill="#ff0000"/>
<rect x="279" y="142" width="1" height="23" fill="#000"/>
<rect x="274" y="157" width="11" height="4" fill="#000"/>
<rect x="275" y="158" width="9" height="2" fill="#ff0000"/>
<rect x="295" y="157" width="1" height="26" fill="#000"/>
<rect x="290" y="157" width="11" height="10" fill="#000"/>
<rect x="291" y="158" width="9" height="8" fill="#00ff00"/>
<rect x="311" y="164" width="1" height="51" fill="#000"/>
<rect x="306" y="166" width="11" height="32" fill="#000"/>
<rect x="307" y="167" width="9" height="30" fill="#00ff00"/>
<rect x="327" y="178" width="1" height="25" fill="#000"/>
<rect x="322" y="179" width="11" height="19" fill="#000"/>
<rect x="323" y="180" width="9" height="17" fill="#ff0000"/>
<rect x="343" y="171" width="1" height="12" fill="#000"/>
<rect x="338" y="174" width="11" height="7" fill="#000"/>
<rect x="339" y="175" width="9" height="5" fill="#ff0000"/>
<rect x="359" y="158" width="1" height="10" fill="#000"/>
<rect x="354" y="164" width="11" height="2" fill="#000"/>
<rect x="375" y="147" width="1" height="28" fill="#000"/>
<rect x="370" y="152" width="11" height="12" fill="#000"/>
<rect x="371" y="153" width="9" height="10" fill="#ff0000"/>
<rect x="391" y="113" width="1" height="42" fill="#000"/>
<rect x="386" y="120" width="11" height="33" fill="#000"/>
<rect x="387" y="121" width="9" height="31" fill="#ff0000"/>
<rect x="407" y="112" width="1" height="23" fill="#000"/>
<rect x="402" y="120" width="11" height="8" fill="#000"/>
<rect x="403" y="121" width="9" height="6" fill="#00ff00"/>
<rect x="423" y="115" width="1" height="23" fill="#000"/>
<rect x="418" y="127" width="11" height="2" fill="#000"/>
<rect x="439" y="120" width="1" height="16" fill="#000"/>
<rect x="434" y="122" width="11" height="7" fill="#000"/>
<rect x="435" y="123" width="9" height="5" fill="#ff0000"/>
<rect x="455" y="118" width="1" height="15" fill="#000"/>
<rect x="450" y="122" width="11" height="5" fill="#000"/>
<rect x="451" y="123" width="9" height="3" fill="#00ff00"/>
<rect x="471" y="113" width="1" height="23" fill="#000"/>
<rect x="466" y="126" width="11" height="5" fill="#000"/>
<rect x="467" y="127" width="9" height="3" fill="#00ff00"/>
<rect x="487" y="116" width="1" height="22" fill="#000"/>
<rect x="482" y="121" width="11" height="10" fill="#000"/>
<rect x="483" y="122" width="9" height="8" fill="#ff0000"/>
<rect x="503" y="117" width="1" height="20" fill="#000"/>
<rect x="498" y="121" width="11" height="7" fill="#000"/>
<rect x="499" y="122" width="9" height="5" fill="#00ff00"/>
<rect x="519" y="97" width="1" height="53" fill="#000"/>
<rect x="514" y="127" width="11" height="13" fill="#000"/>
<rect x="515" y="128" width="9" height="11" fill="#00ff00"/>
<rect x="535" y="129" width="1" height="22" fill="#000"/>
<rect x="530" y="139" width="11" height="8" fill="#000"/>
<rect x="531" y="140" width="9" height="6" fill="#00ff00"/>
<rect x="551" y="132" width="1" height="20" fill="#000"/>
<rect x="546" y="145" width="11" height="2" fill="#000"/>
<rect x="567" y="135" width="1" height="24" fill="#000"/>
<rect x="562" y="145" width="11" height="1" fill="#000"/>
<rect x="583" y="145" width="1" height="51" fill="#000"/>
<rect x="578" y="145" width="11" height="37" fill="#000"/>
<rect x="579" y="146" width="9" height="35" fill="#00ff00"/>
<rect x="599" y="156" width="1" height="33" fill="#000"/>
<rect x="594" y="168" width="11" height="14" fill="#000"/>
<rect x="595" y="169" width="9" height="12" fill="#ff0000"/>
<rect x="615" y="166" width="1" height="32" fill="#000"/>
<rect x="610" y="168" width="11" height="11" fill="#000"/>
<rect x="611" y="169" width="9" height="9" fill="#00ff00"/>
<rect x="631" y="169" width="1" height="18" fill="#000"/>
<rect x="626" y="178" width="11" height="2" fill="#000"/>
<rect x="647" y="178" width="1" height="17" fill="#000"/>
<rect x="642" y="179" width="11" height="10" fill="#000"/>
<rect x="643" y="180" width="9" height="8" fill="#00ff00"/>
<rect x="663" y="171" width="1" height="26" fill="#000"/>
<rect x="658" y="174" width="11" height="16" fill="#000"/>
<rect x="659" y="175" width="9" height="14" fill="#ff0000"/>
<rect x="679" y="161" width="1" height="19" fill="#000"/>
<rect x="674" y="166" width="11" height="9" fill="#000"/>
<rect x="675" y="167" width="9" height="7" fill="#ff0000"/>
<rect x="695" y="162" width="1" height="34" fill="#000"/>
<rect x="690" y="166" width="11" height="24" fill="#000"/>
<rect x="691" y="167" width="9" height="22" fill="#00ff00"/>
<rect x="711" y="183" width="1" height="19" fill="#000"/>
<rect x="706" y="189" width="11" height="12" fill="#000"/>
<rect x="707" y="190" width="9" height="10" fill="#00ff00"/>
<rect x="727" y="192" width="1" height="17" fill="#000"/>
<rect x="722" y="200" width="11" height="6" fill="#000"/>
<rect x="723" y="201" width="9" height="4" fill="#00ff00"/>
<rect x="743" y="203" width="1" height="19" fill="#000"/>
<rect x="738" y="205" width="11" height="16" fill="#000"/>
<rect x="739" y="206" width="9" height="14" fill="#00ff00"/>
<rect x="759" y="207" width="1" height="21" fill="#000"/>
<rect x="754" y="213" width="11" height="8" fill="#000"/>
<rect x="755" y="214" width="9" height="6" fill="#ff0000"/>
<rect x="775" y="209" width="1" height="60" fill="#000"/>
<rect x="770" y="213" width="11" height="45" fill="#000"/>
<rect x="771" y="214" width="9" height="43" fill="#00ff00"/>
<rect x="791" y="246" width="1" height="27" fill="#000"/>
<rect x="786" y="257" width="11" height="3" fill="#000"/>
<rect x="787" y="258" width="9" height="1" fill="#00ff00"/>
<rect x="807" y="240" width="1" height="29" fill="#000"/>
<rect x="802" y="251" width="11" height="9" fill="#000"/>
<rect x="803" y="252" width="9" height="7" fill="#ff0000"/>
<rect x="823" y="251" width="1" height="19" fill="#000"/>
<rect x="818" y="251" width="11" height="7" fill="#000"/>
<rect x="819" y="252" width="9" height="5" fill="#00ff00"/>
<rect x="839" y="249" width="1" height="11" fill="#000"/>
<rect x="834" y="253" width="11" height="2" fill="#000"/>
<rect x="855" y="247" width="1" height="12" fill="#000"/>
<rect x="850" y="253" width="11" height="2" fill="#000"/>
<rect x="871" y="246" width="1" height="12" fill="#000"/>
<rect x="866" y="251" width="11" height="3" fill="#000"/>
<rect x="867" y="252" width="9" height="1" fill="#ff0000"/>
<rect x="887" y="246" width="1" height="19" fill="#000"/>
<rect x="882" y="250" width="11" height="2" fill="#000"/>
<rect x="903" y="238" width="1" height="25" fill="#000"/>
<rect x="898" y="246" width="11" height="5" fill="#000"/>
<rect x="899" y="247" width="9" height="3" fill="#ff0000"/>
<rect x="919" y="232" width="1" height="17" fill="#000"/>
<rect x="914" y="235" width="11" height="12" fill="#000"/>
<rect x="915" y="236" width="9" height="10" fill="#ff0000"/>
<rect x="935" y="227" width="1" height="17" fill="#000"/>
<rect x="930" y="230" width="11" height="6" fill="#000"/>
<rect x="931" y="231" width="9" height="4" fill="#ff0000"/>
<rect x="951" y="229" width="1" height="20" fill="#000"/>
<rect x="946" y="232" width="11" height="4" fill="#000"/>
<rect x="947" y="233" width="9" height="2" fill="#00ff00"/>
<rect x="967" y="210" width="1" height="28" fill="#000"/>
<rect x="962" y="211" width="11" height="26" fill="#000"/>
<rect x="963" y="212" width="9" height="24" fill="#ff0000"/>
<rect x="983" y="209" width="1" height="17" fill="#000"/>
<rect x="978" y="211" width="11" height="9" fill="#000"/>
<rect x="979" y="212" width="9" height="7" fill="#00ff00"/>
<rect x="999" y="218" width="1" height="19" fill="#000"/>
<rect x="994" y="220" width="11" height="14" fill="#000"/>
<rect x="995" y="221" width="9" height="12" fill="#00ff00"/>
<rect x="1015" y="231" width="1" height="27" fill="#000"/>
<rect x="1010" y="233" width="11" height="9" fill="#000"/>
<rect x="1011" y="234" width="9" height="7" fill="#00ff00"/>
<rect x="1031" y="239" width="1" height="11" fill="#000"/>
<rect x="1026" y="241" width="11" height="7" fill="#000"/>
<rect x="1027" y="242" width="9" height="5" fill="#00ff00"/>
<rect x="1047" y="238" width="1" height="15" fill="#000"/>
<rect x="1042" y="238" width="11" height="10" fill="#000"/>
<rect x="1043" y="239" width="9" height="8" fill="#ff0000"/>
<rect x="1063" y="227" width="1" height="61" fill="#000"/>
<rect x="1058" y="238" width="11" height="27" fill="#000"/>
<rect x="1059" y="239" width="9" height="25" fill="#00ff00"/>
<rect x="1079" y="243" width="1" height="28" fill="#000"/>
<rect x="1074" y="250" width="11" height="15" fill="#000"/>
<rect x="1075" y="251" width="9" height="13" fill="#ff0000"/>
<rect x="1095" y="245" width="1" height="16" fill="#000"/>
<rect x="1090" y="250" width="11" height="1" fill="#000"/>
<rect x="1111" y="244" width="1" height="45" fill="#000"/>
<rect x="1106" y="251" width="11" height="37" fill="#000"/>
<rect x="1107" y="252" width="9" height="35" fill="#00ff00"/>
<rect x="1127" y="273" width="1" height="19" fill="#000"/>
<rect x="1122" y="286" width="11" height="2" fill="#000"/>
<rect x="1143" y="255" width="1" height="67" fill="#000"/>
<rect x="1138" y="274" width="11" height="12" fill="#000"/>
<rect x="1139" y="275" width="9" height="10" fill="#ff0000"/>
<rect x="1159" y="211" width="1" height="67" fill="#000"/>
<rect x="1154" y="213" width="11" height="62" fill="#000"/>
<rect x="1155" y="214" width="9" height="60" fill="#ff0000"/>
<rect x="1175" y="209" width="1" height="181" fill="#000"/>
<rect x="1170" y="213" width="11" height="168" fill="#000"/>
<rect x="1171" y="214" width="9" height="166" fill="#00ff00"/>
<rect x="1191" y="361" width="1" height="46" fill="#000"/>
<rect x="1186" y="366" width="11" height="16" fill="#000"/>
<rect x="1187" y="367" width="9" height="14" fill="#ff0000"/>
<rect x="1207" y="354" width="1" height="16" fill="#000"/>
<rect x="1202" y="365" width="11" height="3" fill="#000"/>
<rect x="1203" y="366" width="9" height="1" fill="#ff0000"/>
<rect x="1223" y="357" width="1" height="14" fill="#000"/>
<rect x="1218" y="364" width="11" height="2" fill="#000"/>
<rect x="1239" y="359" width="1" height="37" fill="#000"/>
<rect x="1234" y="365" width="11" height="20" fill="#000"/>
<rect x="1235" y="366" width="9" height="18" fill="#00ff00"/>
<rect x="1255" y="378" width="1" height="39" fill="#000"/>
<rect x="1250" y="384" width="11" height="23" fill="#000"/>
<rect x="1251" y="385" width="9" height="21" fill="#00ff00"/>
<rect x="1271" y="370" width="1" height="99" fill="#000"/>
<rect x="1266" y="406" width="11" height="48" fill="#000"/>
<rect x="1267" y="407" width="9" height="46" fill="#00ff00"/>
<rect x="1287" y="432" width="1" height="91" fill="#000"/>
<rect x="1282" y="453" width="11" height="57" fill="#000"/>
<rect x="1283" y="454" width="9" height="55" fill="#00ff00"/>
<rect x="1303" y="507" width="1" height="36" fill="#000"/>
<rect x="1298" y="509" width="11" height="32" fill="#000"/>
<rect x="1299" y="510" width="9" height="30" fill="#00ff00"/>
</g>
<g class="c">
<rect x="1260" y="462" width="361" height="2" fill="#ff0000"/>
<rect x="1260" y="495" width="361" height="2" fill="#ff0000"/>
<rect x="1260" y="524" width="361" height="2" fill="#ffa500"/>
<rect x="1260" y="568" width="361" height="2" fill="#0000ff"/>
<rect x="1260" y="600" width="361" height="2" fill="#0000ff"/>
<rect x="1260" y="540" width="367" height="1" fill="#000"/>
<rect x="1621" y="460" width="6" height="6" fill="#ff0000"/>
<rect x="1623" y="462" width="2" height="2" fill="#fff"/>
<rect x="1629" y="457" width="41" height="11" fill="#ff0000"/>
<rect x="1621" y="493" width="6" height="6" fill="#ff0000"/>
<rect x="1623" y="495" width="2" height="2" fill="#fff"/>
<rect x="1629" y="490" width="41" height="11" fill="#ff0000"/>
<rect x="1621" y="522" width="6" height="6" fill="#ffa500"/>
<rect x="1623" y="524" width="2" height="2" fill="#fff"/>
<rect x="1629" y="519" width="41" height="11" fill="#ffa500"/>
<rect x="1621" y="566" width="6" height="6" fill="#0000ff"/>
<rect x="1623" y="568" width="2" height="2" fill="#fff"/>
<rect x="1629" y="563" width="41" height="11" fill="#0000ff"/>
<rect x="1621" y="598" width="6" height="6" fill="#0000ff"/>
<rect x="1623" y="600" width="2" height="2" fill="#fff"/>
<rect x="1629" y="595" width="41" height="11" fill="#0000ff"/>
<rect x="1629" y="535" width="41" height="11" fill="#000"/>
</g>
<text x="1633.7" y="466.00" font-size="10.17" fill="#fff" stroke="#fff" stroke-width="0.22" text-anchor="start" textLength="32.3" lengthAdjust="spacingAndGlyphs">157.587</text>
<text x="1633.7" y="499.00" font-size="10.17" fill="#fff" stroke="#fff" stroke-width="0.22" text-anchor="start" textLength="32.3" lengthAdjust="spacingAndGlyphs">156.693</text>
<text x="1633.7" y="528.00" font-size="10.17" fill="#fff" stroke="#fff" stroke-width="0.22" text-anchor="start" textLength="32.3" lengthAdjust="spacingAndGlyphs">155.910</text>
<text x="1633.7" y="572.00" font-size="10.17" fill="#fff" stroke="#fff" stroke-width="0.22" text-anchor="start" textLength="32.3" lengthAdjust="spacingAndGlyphs">154.714</text>
<text x="1633.7" y="604.00" font-size="10.17" fill="#fff" stroke="#fff" stroke-width="0.22" text-anchor="start" textLength="32.3" lengthAdjust="spacingAndGlyphs">153.850</text>
<text x="1633.7" y="544.00" font-size="10.17" fill="#fff" stroke="#fff" stroke-width="0.22" text-anchor="start" textLength="32.3" lengthAdjust="spacingAndGlyphs">155.504</text>
<path d="M1268.6 346.5 L1269.4 346.1 L1375.7 527.7 L1378.8 526 L1379.9 544.9 L1365.3 534.1 L1368.5 532.1 Z" fill="#2e7d32"/>
<g class="c">
<rect x="6" y="639" width="3" height="9" fill="#00ff00"/>
<rect x="22" y="634" width="3" height="14" fill="#00ff00"/>
<rect x="38" y="628" width="3" height="20" fill="#00ff00"/>
<rect x="54" y="625" width="3" height="23" fill="#00ff00"/>
<rect x="70" y="622" width="3" height="26" fill="#00ff00"/>
<rect x="86" y="620" width="3" height="28" fill="#00ff00"/>
<rect x="102" y="617" width="3" height="31" fill="#00ff00"/>
<rect x="118" y="615" width="3" height="33" fill="#00ff00"/>
<rect x="134" y="613" width="3" height="35" fill="#00ff00"/>
<rect x="150" y="612" width="3" height="36" fill="#00ff00"/>
<rect x="166" y="611" width="3" height="37" fill="#00ff00"/>
<rect x="182" y="611" width="3" height="37" fill="#00ff00"/>
<rect x="198" y="613" width="3" height="35" fill="#00ff00"/>
<rect x="214" y="615" width="3" height="33" fill="#00ff00"/>
<rect x="230" y="615" width="3" height="33" fill="#00ff00"/>
<rect x="246" y="617" width="3" height="31" fill="#00ff00"/>
<rect x="262" y="618" width="3" height="30" fill="#00ff00"/>
<rect x="278" y="618" width="3" height="30" fill="#00ff00"/>
<rect x="294" y="620" width="3" height="28" fill="#00ff00"/>
<rect x="310" y="624" width="3" height="24" fill="#00ff00"/>
<rect x="326" y="626" width="3" height="22" fill="#00ff00"/>
<rect x="342" y="628" width="3" height="20" fill="#00ff00"/>
<rect x="358" y="628" width="3" height="20" fill="#00ff00"/>
<rect x="374" y="628" width="3" height="20" fill="#00ff00"/>
<rect x="390" y="625" width="3" height="23" fill="#00ff00"/>
<rect x="406" y="625" width="3" height="23" fill="#00ff00"/>
<rect x="422" y="624" width="3" height="24" fill="#00ff00"/>
<rect x="438" y="624" width="3" height="24" fill="#00ff00"/>
<rect x="454" y="624" width="3" height="24" fill="#00ff00"/>
<rect x="470" y="626" width="3" height="22" fill="#00ff00"/>
<rect x="486" y="625" width="3" height="23" fill="#00ff00"/>
<rect x="502" y="625" width="3" height="23" fill="#00ff00"/>
<rect x="518" y="627" width="3" height="21" fill="#00ff00"/>
<rect x="534" y="630" width="3" height="18" fill="#00ff00"/>
<rect x="550" y="631" width="3" height="17" fill="#00ff00"/>
<rect x="566" y="633" width="3" height="15" fill="#00ff00"/>
<rect x="582" y="637" width="3" height="11" fill="#00ff00"/>
<rect x="598" y="640" width="3" height="8" fill="#00ff00"/>
<rect x="614" y="643" width="3" height="5" fill="#00ff00"/>
<rect x="630" y="645" width="3" height="3" fill="#00ff00"/>
<rect x="646" y="647" width="3" height="1" fill="#00ff00"/>
<rect x="662" y="648" width="3" height="1" fill="#7dff7d"/>
<rect x="678" y="648" width="3" height="1" fill="#7dff7d"/>
<rect x="694" y="648" width="3" height="3" fill="#00ff00"/>
<rect x="710" y="648" width="3" height="5" fill="#00ff00"/>
<rect x="726" y="648" width="3" height="8" fill="#00ff00"/>
<rect x="742" y="648" width="3" height="10" fill="#00ff00"/>
<rect x="758" y="648" width="3" height="12" fill="#00ff00"/>
<rect x="774" y="648" width="3" height="16" fill="#00ff00"/>
<rect x="790" y="648" width="3" height="20" fill="#00ff00"/>
<rect x="806" y="648" width="3" height="21" fill="#00ff00"/>
<rect x="822" y="648" width="3" height="23" fill="#00ff00"/>
<rect x="838" y="648" width="3" height="24" fill="#00ff00"/>
<rect x="854" y="648" width="3" height="24" fill="#00ff00"/>
<rect x="870" y="648" width="3" height="24" fill="#00ff00"/>
<rect x="886" y="648" width="3" height="24" fill="#00ff00"/>
<rect x="902" y="648" width="3" height="21" fill="#00ff00"/>
<rect x="918" y="648" width="3" height="21" fill="#00ff00"/>
<rect x="934" y="648" width="3" height="19" fill="#00ff00"/>
<rect x="950" y="648" width="3" height="18" fill="#00ff00"/>
<rect x="966" y="648" width="3" height="15" fill="#00ff00"/>
<rect x="982" y="648" width="3" height="13" fill="#00ff00"/>
<rect x="998" y="648" width="3" height="12" fill="#00ff00"/>
<rect x="1014" y="648" width="3" height="12" fill="#00ff00"/>
<rect x="1030" y="648" width="3" height="12" fill="#00ff00"/>
<rect x="1046" y="648" width="3" height="12" fill="#00ff00"/>
<rect x="1062" y="648" width="3" height="13" fill="#00ff00"/>
<rect x="1078" y="648" width="3" height="13" fill="#00ff00"/>
<rect x="1094" y="648" width="3" height="13" fill="#00ff00"/>
<rect x="1110" y="648" width="3" height="15" fill="#00ff00"/>
<rect x="1126" y="648" width="3" height="17" fill="#00ff00"/>
<rect x="1142" y="648" width="3" height="17" fill="#00ff00"/>
<rect x="1158" y="648" width="3" height="13" fill="#00ff00"/>
<rect x="1174" y="648" width="3" height="22" fill="#00ff00"/>
<rect x="1190" y="648" width="3" height="28" fill="#00ff00"/>
<rect x="1206" y="648" width="3" height="32" fill="#00ff00"/>
<rect x="1222" y="648" width="3" height="34" fill="#00ff00"/>
<rect x="1238" y="648" width="3" height="38" fill="#00ff00"/>
<rect x="1254" y="648" width="3" height="42" fill="#00ff00"/>
<rect x="1270" y="648" width="3" height="48" fill="#00ff00"/>
<rect x="1286" y="648" width="3" height="56" fill="#00ff00"/>
<rect x="1302" y="648" width="3" height="64" fill="#00ff00"/>
<rect x="1628" y="606" width="1" height="1" fill="#000"/>
<rect x="1628" y="648" width="1" height="1" fill="#000"/>
<rect x="1628" y="716" width="1" height="1" fill="#000"/>
<rect x="1628" y="721" width="1" height="1" fill="#000"/>
<rect x="1628" y="826" width="1" height="1" fill="#000"/>
</g>
<polyline points="0,648.7 39,644.7 55,641.3 71,638 87,634 103,631 118,627.4 134,625 151,620 184,616 231,612.9 247,612.9 279,614 310,617.9 342,620 360,622.9 392,625 440,626 487,625 535,625 567,626.8 583,629.3 600,630.6 630,635 663,640 695,645 727,649 743,650.6 759,651.2 775,654 807,659.6 839,663 855,665.7 887,668.7 903,669.9 950,669.9 983,667 1015,664.3 1047,662.5 1080,660.4 1127,660.4 1160,661.3 1175,662.2 1207,666 1223,668.1 1239,671.1 1255,674.1 1271,677.4 1287,682.2 1303,687.3" fill="none" stroke="#ff0000" stroke-width="2" stroke-linejoin="round" shape-rendering="crispEdges"/>
<text x="-6.1" y="617.00" font-size="10.17" fill="#000" stroke="#000" stroke-width="0.22" text-anchor="start" textLength="66.5" lengthAdjust="spacingAndGlyphs">MACD(12,26,9)</text>
<text x="64" y="617.00" font-size="10.17" fill="#000" stroke="#000" stroke-width="0.22" text-anchor="start" textLength="31" lengthAdjust="spacingAndGlyphs">-1.7916</text>
<text x="98.1" y="617.00" font-size="10.17" fill="#000" stroke="#000" stroke-width="0.22" text-anchor="start" textLength="30.4" lengthAdjust="spacingAndGlyphs">-1.1042</text>
<text x="1631.5" y="615.00" font-size="10.17" fill="#000" stroke="#000" stroke-width="0.22" text-anchor="start" textLength="27" lengthAdjust="spacingAndGlyphs">1.2231</text>
<text x="1631.5" y="652.00" font-size="10.17" fill="#000" stroke="#000" stroke-width="0.22" text-anchor="start" textLength="17" lengthAdjust="spacingAndGlyphs">0.00</text>
<text x="1631.5" y="714.00" font-size="10.17" fill="#000" stroke="#000" stroke-width="0.22" text-anchor="start" textLength="29.8" lengthAdjust="spacingAndGlyphs">-1.9351</text>
<g class="c">
<line x1="-2" y1="742.5" x2="1627" y2="742.5" stroke="#000" stroke-width="1" stroke-dasharray="3 3"/>
<line x1="-2" y1="773.5" x2="1627" y2="773.5" stroke="#000" stroke-width="1" stroke-dasharray="3 3"/>
<line x1="-2" y1="811.5" x2="1627" y2="811.5" stroke="#000" stroke-width="1" stroke-dasharray="3 3"/>
</g>
<polyline points="0,755.2 7.4,749.1 23.4,747.5 40,743.8 55,751.8 70,751.8 87,749.8 100,747.1 150.6,747.1 154,746.1 169,746.1 184,752.5 199,758.2 214,755.2 231,759.2 247.7,757.5 264.4,756.2 277.8,756.2 294.6,760.2 312.3,771.2 328,767.2 341.4,765.5 358.2,762.5 374.9,760.9 391.6,754.2 405,756.2 446.9,756.2 455.2,757.8 477,757.8 485.4,756.8 502.1,759.2 518.8,765.2 533.9,767.9 551.7,767.9 555,766.9 566.8,766.9 583.5,781.9 598.6,776.9 613.6,779.6 630.4,779.9 647.1,782.9 663.9,777.3 678.9,774.9 695.6,782.6 712.4,785.6 727.4,786 742.5,790 759.2,787.6 776,796.7 792.7,796.7 804.4,794.3 834.6,794 861.3,792.7 874.7,791.3 891.5,791 903.2,789.6 919.9,782.3 935,780.9 951.7,781.9 966.8,771.2 971.8,770.9 983.5,774.9 1000.3,779.9 1015.3,782.6 1030.4,784 1047.1,781.3 1063.8,788 1080,782.3 1095,782.3 1110.2,792 1127,792 1143.7,786.3 1159.4,767.2 1174.8,794 1192.2,792 1207.3,791.7 1222.3,791 1239,793.3 1255.8,797 1272.6,801 1289.3,805 1303.7,806" fill="none" stroke="#1e90ff" stroke-width="2" stroke-linejoin="round" shape-rendering="crispEdges"/>
<text x="-5.5" y="732.00" font-size="10.17" fill="#000" stroke="#000" stroke-width="0.22" text-anchor="start" textLength="32.3" lengthAdjust="spacingAndGlyphs">RSI(14)</text>
<text x="30.5" y="732.00" font-size="10.17" fill="#000" stroke="#000" stroke-width="0.22" text-anchor="start" textLength="31.8" lengthAdjust="spacingAndGlyphs">19.1160</text>
<text x="1631.5" y="730.00" font-size="10.17" fill="#000" stroke="#000" stroke-width="0.22" text-anchor="start" textLength="14.2" lengthAdjust="spacingAndGlyphs">100</text>
<text x="1630.4" y="746.00" font-size="10.17" fill="#000" stroke="#000" stroke-width="0.22" text-anchor="start" textLength="9.4" lengthAdjust="spacingAndGlyphs">80</text>
<text x="1630.4" y="777.00" font-size="10.17" fill="#000" stroke="#000" stroke-width="0.22" text-anchor="start" textLength="9.4" lengthAdjust="spacingAndGlyphs">50</text>
<text x="1630.8" y="815.00" font-size="10.17" fill="#000" stroke="#000" stroke-width="0.22" text-anchor="start" textLength="9.3" lengthAdjust="spacingAndGlyphs">15</text>
<text x="1630.7" y="824.00" font-size="10.17" fill="#000" stroke="#000" stroke-width="0.22" text-anchor="start" textLength="5.2" lengthAdjust="spacingAndGlyphs">0</text>
<g class="c">
<rect x="-9" y="828" width="1" height="3" fill="#000"/>
<rect x="55" y="828" width="1" height="3" fill="#000"/>
<rect x="119" y="828" width="1" height="3" fill="#000"/>
<rect x="183" y="828" width="1" height="3" fill="#000"/>
<rect x="247" y="828" width="1" height="3" fill="#000"/>
<rect x="311" y="828" width="1" height="3" fill="#000"/>
<rect x="375" y="828" width="1" height="3" fill="#000"/>
<rect x="439" y="828" width="1" height="3" fill="#000"/>
<rect x="503" y="828" width="1" height="3" fill="#000"/>
<rect x="567" y="828" width="1" height="3" fill="#000"/>
<rect x="631" y="828" width="1" height="3" fill="#000"/>
<rect x="695" y="828" width="1" height="3" fill="#000"/>
<rect x="759" y="828" width="1" height="3" fill="#000"/>
<rect x="823" y="828" width="1" height="3" fill="#000"/>
<rect x="887" y="828" width="1" height="3" fill="#000"/>
<rect x="951" y="828" width="1" height="3" fill="#000"/>
<rect x="1015" y="828" width="1" height="3" fill="#000"/>
<rect x="1079" y="828" width="1" height="3" fill="#000"/>
<rect x="1143" y="828" width="1" height="3" fill="#000"/>
<rect x="1207" y="828" width="1" height="3" fill="#000"/>
<rect x="1271" y="828" width="1" height="3" fill="#000"/>
</g>
<text x="-10" y="840.00" font-size="10.17" fill="#000" stroke="#000" stroke-width="0.22" text-anchor="start" textLength="46.8" lengthAdjust="spacingAndGlyphs">5 Sep 2022</text>
<text x="53.8" y="840.00" font-size="10.17" fill="#000" stroke="#000" stroke-width="0.22" text-anchor="start" textLength="50.2" lengthAdjust="spacingAndGlyphs">6 Sep 16:00</text>
<text x="117.8" y="840.00" font-size="10.17" fill="#000" stroke="#000" stroke-width="0.22" text-anchor="start" textLength="50.2" lengthAdjust="spacingAndGlyphs">7 Sep 08:00</text>
<text x="181.8" y="840.00" font-size="10.17" fill="#000" stroke="#000" stroke-width="0.22" text-anchor="start" textLength="50.2" lengthAdjust="spacingAndGlyphs">8 Sep 00:00</text>
<text x="245.8" y="840.00" font-size="10.17" fill="#000" stroke="#000" stroke-width="0.22" text-anchor="start" textLength="50.2" lengthAdjust="spacingAndGlyphs">8 Sep 16:00</text>
<text x="309.8" y="840.00" font-size="10.17" fill="#000" stroke="#000" stroke-width="0.22" text-anchor="start" textLength="50.2" lengthAdjust="spacingAndGlyphs">9 Sep 08:00</text>
<text x="374.5" y="840.00" font-size="10.17" fill="#000" stroke="#000" stroke-width="0.22" text-anchor="start" textLength="54.9" lengthAdjust="spacingAndGlyphs">12 Sep 00:00</text>
<text x="438.5" y="840.00" font-size="10.17" fill="#000" stroke="#000" stroke-width="0.22" text-anchor="start" textLength="54.9" lengthAdjust="spacingAndGlyphs">12 Sep 16:00</text>
<text x="502.5" y="840.00" font-size="10.17" fill="#000" stroke="#000" stroke-width="0.22" text-anchor="start" textLength="54.9" lengthAdjust="spacingAndGlyphs">13 Sep 08:00</text>
<text x="566.5" y="840.00" font-size="10.17" fill="#000" stroke="#000" stroke-width="0.22" text-anchor="start" textLength="54.9" lengthAdjust="spacingAndGlyphs">14 Sep 00:00</text>
<text x="630.5" y="840.00" font-size="10.17" fill="#000" stroke="#000" stroke-width="0.22" text-anchor="start" textLength="54.9" lengthAdjust="spacingAndGlyphs">14 Sep 16:00</text>
<text x="694.5" y="840.00" font-size="10.17" fill="#000" stroke="#000" stroke-width="0.22" text-anchor="start" textLength="54.9" lengthAdjust="spacingAndGlyphs">15 Sep 08:00</text>
<text x="758.5" y="840.00" font-size="10.17" fill="#000" stroke="#000" stroke-width="0.22" text-anchor="start" textLength="54.9" lengthAdjust="spacingAndGlyphs">16 Sep 00:00</text>
<text x="822.5" y="840.00" font-size="10.17" fill="#000" stroke="#000" stroke-width="0.22" text-anchor="start" textLength="54.9" lengthAdjust="spacingAndGlyphs">16 Sep 16:00</text>
<text x="886.5" y="840.00" font-size="10.17" fill="#000" stroke="#000" stroke-width="0.22" text-anchor="start" textLength="54.9" lengthAdjust="spacingAndGlyphs">19 Sep 08:00</text>
<text x="950.5" y="840.00" font-size="10.17" fill="#000" stroke="#000" stroke-width="0.22" text-anchor="start" textLength="54.9" lengthAdjust="spacingAndGlyphs">20 Sep 00:00</text>
<text x="1014.5" y="840.00" font-size="10.17" fill="#000" stroke="#000" stroke-width="0.22" text-anchor="start" textLength="54.9" lengthAdjust="spacingAndGlyphs">20 Sep 16:00</text>
<text x="1078.5" y="840.00" font-size="10.17" fill="#000" stroke="#000" stroke-width="0.22" text-anchor="start" textLength="54.9" lengthAdjust="spacingAndGlyphs">21 Sep 08:00</text>
<text x="1142.5" y="840.00" font-size="10.17" fill="#000" stroke="#000" stroke-width="0.22" text-anchor="start" textLength="54.9" lengthAdjust="spacingAndGlyphs">22 Sep 00:00</text>
<text x="1206.5" y="840.00" font-size="10.17" fill="#000" stroke="#000" stroke-width="0.22" text-anchor="start" textLength="54.9" lengthAdjust="spacingAndGlyphs">22 Sep 16:00</text>
<text x="1270.5" y="840.00" font-size="10.17" fill="#000" stroke="#000" stroke-width="0.22" text-anchor="start" textLength="54.9" lengthAdjust="spacingAndGlyphs">23 Sep 08:00</text>
<rect x="0" y="32" width="1" height="1" fill="#000"/>
<text x="6.4" y="37.00" font-size="10.17" fill="#000" stroke="#000" stroke-width="0.22" text-anchor="start" textLength="52.4" lengthAdjust="spacingAndGlyphs">GBPJPY-,H4</text>
<text x="65.5" y="37.00" font-size="10.17" fill="#000" stroke="#000" stroke-width="0.22" text-anchor="start" textLength="140.4" lengthAdjust="spacingAndGlyphs">156.336 156.389 155.450 155.504</text>
</svg></body></html>
